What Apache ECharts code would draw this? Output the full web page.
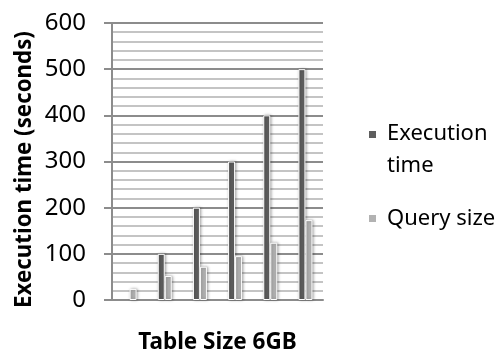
<!DOCTYPE html>
<html>
<head>
    <meta charset="UTF-8"/>
    <title>Execution time</title>
    <script src="https://cdn.jsdelivr.net/npm/echarts@6/dist/echarts.min.js"></script>
    <style>
        html, body { margin: 0; padding: 0; background: #fff; }
        #histogram { width: 500px; height: 353px; }
    </style>
</head>
<body>
<div id="histogram"></div>
<script type="text/javascript">

    // chart data
    var categories = ['1', '2', '3', '4', '5', '6'];
    var executionTime = [0, 100, 200, 300, 400, 500];
    var querySize = [24, 52, 72, 95, 124, 173];
    var yTicks = [0, 100, 200, 300, 400, 500, 600];

    var FONT = '"Noto Sans", "Open Sans", sans-serif';
    var gridColor = '#8c8c8c';

    const chart = echarts.init(document.getElementById('histogram'));

    var barStyle = function(color) {
        return {
            color: color,
            borderColor: '#ffffff',
            borderWidth: 1,
            shadowColor: 'rgba(0,0,0,0.35)',
            shadowBlur: 3,
            shadowOffsetX: 1,
            shadowOffsetY: 0
        };
    };

    // a zero bar is simply not drawn in the original
    var noZero = function(list) {
        return list.map(function(v) { return v === 0 ? null : v; });
    };

    chart.setOption({
        animation: false,
        backgroundColor: '#ffffff',
        grid: { left: 112, right: 177, top: 23, bottom: 53, outerBoundsMode: 'none', containLabel: false },
        legend: {
            orient: 'vertical',
            left: 362,
            top: 118,
            itemWidth: 9,
            itemHeight: 9,
            itemGap: 31,
            icon: 'rect',
            data: ['Execution time', 'Query size'],
            formatter: function(name) {
                if (name === 'Execution time') {
                    return '{l1|Execution}\n{l2|time}';
                }
                return '{q|' + name + '}';
            },
            textStyle: {
                color: '#000',
                fontFamily: FONT,
                fontSize: 22,
                padding: [0, 0, 0, 5],
                rich: {
                    l1: { fontFamily: FONT, fontSize: 22, color: '#000', lineHeight: 62 },
                    l2: { fontFamily: FONT, fontSize: 22, color: '#000', lineHeight: 1 },
                    q: { fontFamily: FONT, fontSize: 22, color: '#000', lineHeight: 24 }
                }
            }
        },
        xAxis: {
            type: 'category',
            data: categories,
            name: 'Table Size 6GB',
            nameLocation: 'middle',
            nameGap: 31,
            nameTextStyle: { fontFamily: FONT, fontSize: 22.5, fontWeight: 'bold', color: '#000' },
            axisLine: { lineStyle: { color: gridColor, width: 2 } },
            axisTick: { show: false },
            axisLabel: { show: false }
        },
        yAxis: {
            type: 'value',
            min: yTicks[0],
            max: yTicks[yTicks.length - 1],
            interval: 100,
            name: 'Execution time (seconds)',
            nameLocation: 'middle',
            nameGap: 76,
            nameTextStyle: {
                fontFamily: FONT, fontSize: 22.3, fontWeight: 'bold', color: '#000',
                padding: [0, 16, 0, 0]
            },
            axisLine: { show: true, lineStyle: { color: gridColor, width: 2 } },
            axisTick: { show: true, length: 8, lineStyle: { color: gridColor, width: 2 } },
            axisLabel: { margin: 26, fontFamily: FONT, fontSize: 24, color: '#000' },
            splitLine: { show: true, lineStyle: { color: gridColor, width: 2 } },
            minorTick: { show: false, splitNumber: 5 },
            minorSplitLine: { show: true, lineStyle: { color: '#c4c4c4', width: 2 } }
        },
        series: [
            {
                name: 'Execution time',
                type: 'bar',
                barWidth: 7,
                barGap: '0%',
                itemStyle: barStyle('#5e5e5e'),
                data: noZero(executionTime)
            },
            {
                name: 'Query size',
                type: 'bar',
                barWidth: 7,
                itemStyle: barStyle('#b2b2b2'),
                data: noZero(querySize)
            }
        ]
    });
</script>
</body>
</html>
